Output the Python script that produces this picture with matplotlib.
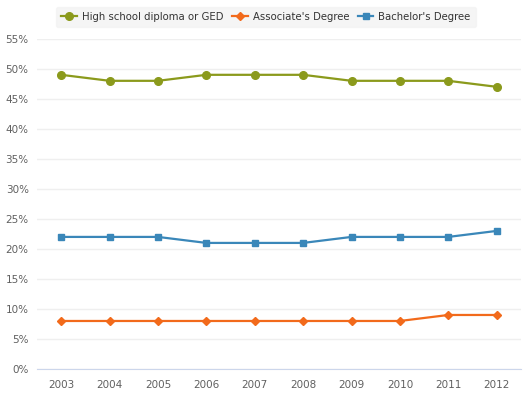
import matplotlib
matplotlib.use('Agg')
from matplotlib import pyplot as plt
from matplotlib.ticker import FuncFormatter

years = ['2003', '2004', '2005', '2006', '2007', '2008', '2009', '2010', '2011', '2012']
high_school = [49, 48, 48, 49, 49, 49, 48, 48, 48, 47]
associate = [8, 8, 8, 8, 8, 8, 8, 8, 9, 9]
bachelor = [22, 22, 22, 21, 21, 21, 22, 22, 22, 23]

plt.rcParams['font.family'] = ['DejaVu Sans']

fig = plt.figure(figsize=(5.3, 3.95), dpi=100)
ax = fig.add_axes([0.0698, 0.0658, 0.913, 0.836])

x = range(len(years))
ax.plot(x, high_school, color='#8b9a1c', marker='o', markersize=5.5, linewidth=1.6,
        label='High school diploma or GED')
ax.plot(x, associate, color='#f26a1b', marker='D', markersize=3.8, linewidth=1.6,
        label="Associate's Degree")
ax.plot(x, bachelor, color='#3a87b9', marker='s', markersize=5, linewidth=1.6,
        label="Bachelor's Degree")

ax.set_xlim(-0.5, len(years) - 0.5)
ax.set_ylim(0, 55)
ax.set_yticks(range(0, 56, 5))
ax.yaxis.set_major_formatter(FuncFormatter(lambda v, p: '%d%%' % v))
ax.set_xticks(list(x))
ax.set_xticklabels(years)
ax.grid(axis='y', color='#efefef', linewidth=1)
ax.set_axisbelow(True)
for side in ['top', 'right', 'left']:
    ax.spines[side].set_visible(False)
ax.spines['bottom'].set_color('#ccd6eb')
ax.tick_params(axis='both', length=0, labelsize=7.5, colors='#606060', pad=6)
ax.tick_params(axis='x', pad=8)

leg = fig.legend(loc='center', bbox_to_anchor=(0.502, 0.957), ncol=3, fontsize=7.3,
                 frameon=True, handlelength=1.5, handletextpad=0.5, columnspacing=0.9,
                 borderpad=0.5, fancybox=True)
leg.get_frame().set_facecolor('#f3f3f3')
leg.get_frame().set_edgecolor('#f3f3f3')
for t in leg.get_texts():
    t.set_color('#333333')

fig.savefig('out.png', dpi=100)
